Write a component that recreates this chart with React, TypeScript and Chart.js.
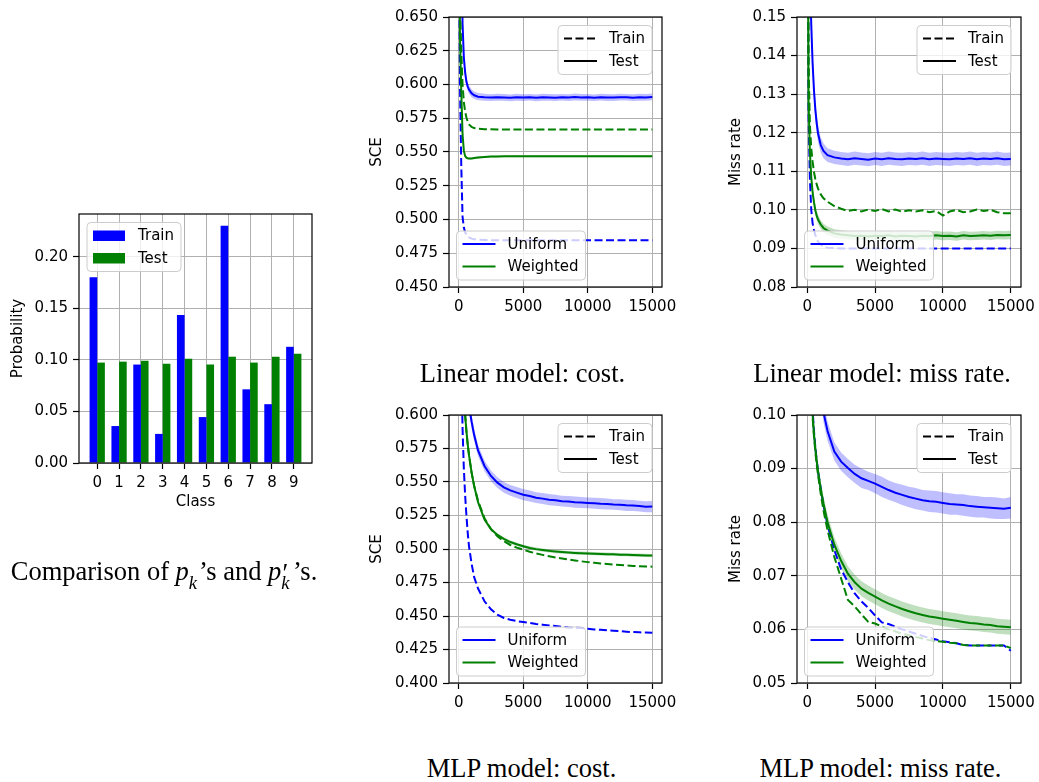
import React, { useEffect, useRef } from 'react';
import { Chart, registerables } from 'chart.js';
Chart.register(...registerables);

// ---------------- data ----------------
const CLASSES = [0, 1, 2, 3, 4, 5, 6, 7, 8, 9];
const TRAIN_PROB = [0.180, 0.0358, 0.0954, 0.0282, 0.1434, 0.0445, 0.2298, 0.0714, 0.057, 0.1126];
const TEST_PROB = [0.0973, 0.0982, 0.0992, 0.0963, 0.1011, 0.0954, 0.1030, 0.0973, 0.1030, 0.1059];
const PROB_TICKS = [0, 0.05, 0.1, 0.15, 0.2];

const ITERS = [0, 100, 200, 300, 400, 500, 600, 700, 800, 1000, 1200, 1500,
  2000, 2500, 3000, 3500, 4000, 4500, 5000, 5500, 6000, 6500, 7000, 7500, 8000, 8500, 9000, 9500,
  10000, 10500, 11000, 11500, 12000, 12500, 13000, 13500, 14000, 14500, 15000];
const ITER_TICKS = [0, 5000, 10000, 15000];

// Linear model: cost (SCE)
const LIN_COST_UNI_TEST = [0.95, 0.80, 0.70, 0.645, 0.62, 0.609, 0.602, 0.5985, 0.5962, 0.5935, 0.592, 0.5910,
  0.5905, 0.5903, 0.5906, 0.5904, 0.5901, 0.5906, 0.5903, 0.5905, 0.5901, 0.5906, 0.5904, 0.5902, 0.5905, 0.5903,
  0.5907, 0.5904, 0.5905, 0.5902, 0.5906, 0.5904, 0.5903, 0.5906, 0.5905, 0.5902, 0.5906, 0.5904, 0.5908];
const LIN_COST_UNI_SPREAD = [0.004, 0.004, 0.004, 0.004, 0.0038, 0.0036, 0.0034, 0.0032, 0.003, 0.003, 0.0028, 0.0027,
  0.0026, 0.0025, 0.0026, 0.0025, 0.0025, 0.0026, 0.0025, 0.0024, 0.0025, 0.0026, 0.0025, 0.0025, 0.0024, 0.0025,
  0.0026, 0.0025, 0.0025, 0.0024, 0.0025, 0.0026, 0.0025, 0.0025, 0.0024, 0.0025, 0.0026, 0.0025, 0.0025];
const LIN_COST_WEI_TEST = [0.80, 0.635, 0.595, 0.563, 0.551, 0.547, 0.5458, 0.5453, 0.5451, 0.5452, 0.5455, 0.5459,
  0.5463, 0.5466, 0.5467, 0.5468, 0.5468, 0.5469, 0.5468, 0.5469, 0.5469, 0.5468, 0.5469, 0.5469, 0.5468, 0.5469,
  0.5469, 0.5469, 0.5468, 0.5469, 0.5469, 0.5468, 0.5469, 0.5469, 0.5468, 0.5469, 0.5469, 0.5468, 0.5469];
const LIN_COST_WEI_SPREAD = [0.002, 0.002, 0.002, 0.0015, 0.0012, 0.001, 0.001, 0.0009, 0.0008, 0.0008, 0.0008, 0.0008,
  0.0007, 0.0007, 0.0007, 0.0007, 0.0007, 0.0007, 0.0007, 0.0007, 0.0007, 0.0007, 0.0007, 0.0007, 0.0007, 0.0007,
  0.0007, 0.0007, 0.0007, 0.0007, 0.0007, 0.0007, 0.0007, 0.0007, 0.0007, 0.0007, 0.0007, 0.0007, 0.0007];
const LIN_COST_WEI_TRAIN = [0.80, 0.66, 0.625, 0.600, 0.587, 0.580, 0.5755, 0.5725, 0.5705, 0.5685, 0.5677, 0.5672,
  0.5669, 0.5668, 0.5667, 0.5667, 0.5667, 0.5667, 0.5667, 0.5667, 0.5667, 0.5667, 0.5667, 0.5667, 0.5667, 0.5667,
  0.5667, 0.5667, 0.5667, 0.5667, 0.5667, 0.5667, 0.5667, 0.5667, 0.5667, 0.5667, 0.5667, 0.5667, 0.5667];
const LIN_COST_UNI_TRAIN = [0.75, 0.60, 0.54, 0.502, 0.494, 0.4905, 0.489, 0.4875, 0.4867, 0.4858, 0.4853, 0.4850,
  0.4848, 0.4847, 0.4847, 0.4846, 0.4846, 0.4846, 0.4846, 0.4846, 0.4846, 0.4846, 0.4846, 0.4846, 0.4846, 0.4846,
  0.4846, 0.4846, 0.4846, 0.4846, 0.4846, 0.4846, 0.4846, 0.4846, 0.4846, 0.4846, 0.4846, 0.4846, 0.4845];
const SCE_LIN_TICKS = [0.45, 0.475, 0.5, 0.525, 0.55, 0.575, 0.6, 0.625, 0.65];

// Linear model: miss rate
const LIN_MISS_UNI_TEST = [0.25, 0.19, 0.162, 0.148, 0.138, 0.131, 0.126, 0.1225, 0.1198, 0.1168, 0.1153, 0.1142,
  0.1136, 0.1133, 0.1131, 0.1134, 0.1132, 0.1130, 0.1133, 0.1131, 0.1134, 0.1132, 0.1131, 0.1133, 0.1132, 0.1134,
  0.1131, 0.1133, 0.1132, 0.1131, 0.1133, 0.1132, 0.1134, 0.1131, 0.1133, 0.1132, 0.1134, 0.1131, 0.1132];
const LIN_MISS_UNI_SPREAD = [0.003, 0.003, 0.003, 0.003, 0.003, 0.0028, 0.0026, 0.0024, 0.0022, 0.002, 0.0019, 0.0018,
  0.0017, 0.0017, 0.0017, 0.0017, 0.0017, 0.0017, 0.0017, 0.0017, 0.0017, 0.0017, 0.0017, 0.0017, 0.0017, 0.0017,
  0.0017, 0.0017, 0.0017, 0.0017, 0.0017, 0.0017, 0.0017, 0.0017, 0.0017, 0.0017, 0.0017, 0.0017, 0.0017];
const LIN_MISS_WEI_TEST = [0.25, 0.128, 0.115, 0.1085, 0.1045, 0.1020, 0.0999, 0.0985, 0.0975, 0.0962, 0.0953, 0.0946,
  0.0939, 0.0936, 0.0934, 0.0932, 0.0933, 0.0931, 0.0933, 0.0932, 0.0934, 0.0931, 0.0933, 0.0932, 0.0931, 0.0933,
  0.0932, 0.0934, 0.0932, 0.0933, 0.0931, 0.0934, 0.0932, 0.0933, 0.0934, 0.0933, 0.0935, 0.0934, 0.0935];
const LIN_MISS_WEI_SPREAD = [0.0015, 0.0015, 0.0015, 0.0015, 0.0015, 0.0014, 0.0013, 0.0012, 0.0012, 0.0011, 0.0011, 0.0011,
  0.0011, 0.0011, 0.0011, 0.0011, 0.0011, 0.0011, 0.0011, 0.0011, 0.0011, 0.0011, 0.0011, 0.0011, 0.0011, 0.0011,
  0.0011, 0.0011, 0.0011, 0.0011, 0.0011, 0.0011, 0.0011, 0.0011, 0.0011, 0.0011, 0.0011, 0.0011, 0.0011];
const LIN_MISS_WEI_TRAIN = [0.25, 0.138, 0.122, 0.116, 0.1125, 0.1098, 0.1080, 0.1066, 0.1055, 0.1040, 0.1030, 0.1021,
  0.1010, 0.1003, 0.0997, 0.1000, 0.0996, 0.1001, 0.0997, 0.1002, 0.0996, 0.1001, 0.0995, 0.0999, 0.0996, 0.0999,
  0.0994, 0.0997, 0.0985, 0.0996, 0.1000, 0.0994, 0.0996, 0.1001, 0.0997, 0.1000, 0.0994, 0.0991, 0.0991];
const LIN_MISS_UNI_TRAIN = [0.25, 0.125, 0.108, 0.100, 0.0965, 0.0948, 0.0935, 0.0925, 0.0918, 0.0910, 0.0905, 0.0902,
  0.0901, 0.0900, 0.0900, 0.0900, 0.0900, 0.0900, 0.0900, 0.0900, 0.0900, 0.0900, 0.0900, 0.0900, 0.0900, 0.0900,
  0.0900, 0.0900, 0.0900, 0.0900, 0.0900, 0.0900, 0.0900, 0.0900, 0.0900, 0.0900, 0.0900, 0.0900, 0.0900];
const MISS_LIN_TICKS = [0.08, 0.09, 0.1, 0.11, 0.12, 0.13, 0.14, 0.15];

// MLP model: cost (SCE)
const MLP_COST_UNI_TEST = [0.95, 0.85, 0.78, 0.72, 0.68, 0.655, 0.635, 0.62, 0.607, 0.595, 0.585, 0.5735,
  0.562, 0.5545, 0.5495, 0.546, 0.5437, 0.5421, 0.5405, 0.5395, 0.5383, 0.5376, 0.5368, 0.5363, 0.5357, 0.5354,
  0.5349, 0.5347, 0.5344, 0.5342, 0.5338, 0.5336, 0.5332, 0.533, 0.5326, 0.5324, 0.532, 0.5315, 0.5317];
const MLP_COST_UNI_SPREAD = [0.006, 0.006, 0.006, 0.006, 0.006, 0.006, 0.006, 0.006, 0.0055, 0.005, 0.0045, 0.0042,
  0.004, 0.004, 0.004, 0.004, 0.004, 0.0041, 0.0042, 0.0041, 0.004, 0.0041, 0.0042, 0.0041, 0.004, 0.0041,
  0.0042, 0.0041, 0.004, 0.0041, 0.0042, 0.0041, 0.004, 0.0041, 0.0042, 0.0041, 0.004, 0.0041, 0.0042];
const MLP_COST_WEI_TEST = [0.85, 0.75, 0.69, 0.65, 0.62, 0.60, 0.588, 0.578, 0.570, 0.557, 0.547, 0.535,
  0.522, 0.5148, 0.5105, 0.5075, 0.5052, 0.5035, 0.502, 0.5008, 0.4999, 0.4992, 0.4986, 0.4981, 0.4977, 0.4974,
  0.4971, 0.4969, 0.4967, 0.4965, 0.4963, 0.4961, 0.496, 0.4958, 0.4957, 0.4955, 0.4954, 0.4952, 0.4951];
const MLP_COST_WEI_SPREAD = [0.002, 0.002, 0.002, 0.002, 0.002, 0.002, 0.0018, 0.0016, 0.0015, 0.0014, 0.0013, 0.0012,
  0.0012, 0.0012, 0.0012, 0.0012, 0.0012, 0.0012, 0.0012, 0.0012, 0.0012, 0.0012, 0.0012, 0.0012, 0.0012, 0.0012,
  0.0012, 0.0012, 0.0012, 0.0012, 0.0012, 0.0012, 0.0012, 0.0012, 0.0012, 0.0012, 0.0012, 0.0012, 0.0012];
const MLP_COST_WEI_TRAIN = [0.85, 0.75, 0.69, 0.65, 0.62, 0.60, 0.588, 0.578, 0.570, 0.557, 0.547, 0.536,
  0.523, 0.5148, 0.5095, 0.5058, 0.503, 0.501, 0.4995, 0.498, 0.4967, 0.4956, 0.4946, 0.4937, 0.4929, 0.4922,
  0.4915, 0.4908, 0.4902, 0.4897, 0.4892, 0.4888, 0.4884, 0.488, 0.4877, 0.4874, 0.4872, 0.487, 0.4868];
const MLP_COST_UNI_TRAIN = [0.9, 0.75, 0.64, 0.59, 0.56, 0.54, 0.525, 0.512, 0.502, 0.489, 0.479, 0.4705,
  0.461, 0.455, 0.451, 0.4485, 0.4472, 0.4462, 0.4455, 0.4448, 0.444, 0.4435, 0.443, 0.4425, 0.442, 0.4415,
  0.4412, 0.441, 0.4405, 0.44, 0.4397, 0.4393, 0.439, 0.4387, 0.4383, 0.438, 0.4378, 0.4376, 0.4375];
const SCE_MLP_TICKS = [0.4, 0.425, 0.45, 0.475, 0.5, 0.525, 0.55, 0.575, 0.6];

// MLP model: miss rate
const MLP_MISS_UNI_TEST = [0.20, 0.17, 0.15, 0.138, 0.13, 0.124, 0.119, 0.115, 0.112, 0.1065, 0.1005, 0.097,
  0.0932, 0.0913, 0.0901, 0.089, 0.0882, 0.0877, 0.0872, 0.0866, 0.086, 0.0855, 0.0851, 0.0847, 0.0844, 0.0841,
  0.0839, 0.0838, 0.0836, 0.0834, 0.0833, 0.0832, 0.083, 0.0829, 0.0828, 0.0827, 0.0826, 0.0825, 0.0827];
const MLP_MISS_UNI_SPREAD = [0.002, 0.002, 0.002, 0.002, 0.002, 0.002, 0.002, 0.002, 0.002, 0.002, 0.0019, 0.0018,
  0.0017, 0.0017, 0.0017, 0.0017, 0.0018, 0.0017, 0.0018, 0.0019, 0.0018, 0.0018, 0.0019, 0.0019, 0.002, 0.0019,
  0.002, 0.002, 0.002, 0.002, 0.0019, 0.002, 0.002, 0.002, 0.0019, 0.002, 0.002, 0.0019, 0.002];
const MLP_MISS_WEI_TEST = [0.14, 0.125, 0.115, 0.106, 0.1, 0.0965, 0.0938, 0.0915, 0.0895, 0.0862, 0.0835, 0.080,
  0.0758, 0.0728, 0.0704, 0.0688, 0.0676, 0.0668, 0.0661, 0.0654, 0.0648, 0.0643, 0.0638, 0.0634, 0.063, 0.0627,
  0.0624, 0.0622, 0.062, 0.0618, 0.0616, 0.0614, 0.0612, 0.0611, 0.0609, 0.0608, 0.0606, 0.0605, 0.0604];
const MLP_MISS_WEI_SPREAD = [0.0015, 0.0015, 0.0015, 0.0015, 0.0015, 0.0015, 0.0015, 0.0015, 0.0015, 0.0015, 0.0014, 0.0014,
  0.0014, 0.0014, 0.0014, 0.0014, 0.0014, 0.0014, 0.0014, 0.0014, 0.0014, 0.0014, 0.0014, 0.0014, 0.0014, 0.0014,
  0.0014, 0.0014, 0.0014, 0.0014, 0.0014, 0.0014, 0.0014, 0.0014, 0.0014, 0.0014, 0.0014, 0.0014, 0.0014];
const MLP_MISS_WEI_TRAIN = [0.14, 0.124, 0.114, 0.105, 0.0995, 0.096, 0.0932, 0.0908, 0.0888, 0.0853, 0.0822, 0.0785,
  0.0735, 0.0695, 0.0655, 0.0643, 0.0628, 0.0614, 0.0611, 0.0605, 0.06, 0.0596, 0.0592, 0.0589, 0.0586, 0.0583,
  0.058, 0.0578, 0.0577, 0.0575, 0.0574, 0.0571, 0.057, 0.057, 0.057, 0.057, 0.057, 0.057, 0.0565];
const MLP_MISS_UNI_TRAIN = [0.16, 0.13, 0.117, 0.107, 0.101, 0.097, 0.094, 0.0915, 0.0895, 0.0862, 0.0832, 0.0795,
  0.0748, 0.0712, 0.0688, 0.0667, 0.0652, 0.064, 0.0626, 0.0613, 0.061, 0.0605, 0.06, 0.0596, 0.0592, 0.0588,
  0.0584, 0.0581, 0.0578, 0.0576, 0.0574, 0.0571, 0.057, 0.057, 0.057, 0.057, 0.057, 0.057, 0.056];
const MISS_MLP_TICKS = [0.05, 0.06, 0.07, 0.08, 0.09, 0.1];

// ---------------- styling ----------------
const FONT = '"DejaVu Sans", sans-serif';
const BLUE = '#0000ff';
const GREEN = '#008000';
const BLUE_BAND = 'rgba(0,0,255,0.25)';
const GREEN_BAND = 'rgba(0,128,0,0.25)';
const DASH = [8, 3.5];
const TICK_FONT = { family: FONT, size: 15 };
const GRID = { color: '#b0b0b0', lineWidth: 1, tickColor: '#000', tickLength: 6, tickWidth: 1.2, drawTicks: true, offset: false };

type Rect = { L: number; T: number; R: number; B: number };
type LegendItem = { label: string; color: string; dash?: number[]; patch?: boolean };
type Legend = { corner: 'ur' | 'll' | 'ul'; dx: number; dy: number; items: LegendItem[] };
type Decor = { yTitle: string; yTitleDX: number; xTitle?: string; xTitleDY?: number; legends: Legend[] };

function drawLegend(ctx: CanvasRenderingContext2D, a: any, lg: Legend) {
  ctx.font = `15px ${FONT}`;
  const pad = 6, handle = 33, gap = 12, padR = 7, h = 49;
  const tw = Math.max(...lg.items.map((it) => ctx.measureText(it.label).width));
  const w = pad + handle + gap + tw + padR;
  let x: number, y: number;
  if (lg.corner === 'ur') { x = a.right - lg.dx - w; y = a.top + lg.dy; }
  else if (lg.corner === 'ul') { x = a.left + lg.dx; y = a.top + lg.dy; }
  else { x = a.left + lg.dx; y = a.bottom - lg.dy - h; }
  const r = 4;
  ctx.beginPath();
  ctx.moveTo(x + r, y);
  ctx.arcTo(x + w, y, x + w, y + h, r);
  ctx.arcTo(x + w, y + h, x, y + h, r);
  ctx.arcTo(x, y + h, x, y, r);
  ctx.arcTo(x, y, x + w, y, r);
  ctx.closePath();
  ctx.fillStyle = 'rgba(255,255,255,0.8)';
  ctx.fill();
  ctx.strokeStyle = '#cccccc';
  ctx.lineWidth = 1;
  ctx.setLineDash([]);
  ctx.stroke();
  const rows = [y + 13, y + 35.5];
  lg.items.forEach((it, i) => {
    const cy = rows[i];
    if (it.patch) {
      ctx.fillStyle = it.color;
      ctx.fillRect(x + pad, cy - 5, handle - 1, 10.5);
    } else {
      ctx.strokeStyle = it.color;
      ctx.lineWidth = 2;
      ctx.setLineDash(it.dash || []);
      ctx.beginPath();
      ctx.moveTo(x + pad, cy);
      ctx.lineTo(x + pad + handle, cy);
      ctx.stroke();
      ctx.setLineDash([]);
    }
    ctx.fillStyle = '#000';
    ctx.textAlign = 'left';
    ctx.textBaseline = 'middle';
    ctx.fillText(it.label, x + pad + handle + gap, cy + 1);
  });
}

function makeDecorPlugin(d: Decor) {
  return {
    id: 'mplDecor',
    afterDraw(chart: any) {
      const ctx: CanvasRenderingContext2D = chart.ctx;
      const a = chart.chartArea;
      ctx.save();
      ctx.strokeStyle = '#000';
      ctx.lineWidth = 1.2;
      ctx.setLineDash([]);
      ctx.strokeRect(a.left, a.top, a.right - a.left, a.bottom - a.top);
      ctx.fillStyle = '#000';
      ctx.font = `15px ${FONT}`;
      ctx.save();
      ctx.translate(a.left + d.yTitleDX, (a.top + a.bottom) / 2);
      ctx.rotate(-Math.PI / 2);
      ctx.textAlign = 'center';
      ctx.textBaseline = 'middle';
      ctx.fillText(d.yTitle, 0, 0);
      ctx.restore();
      if (d.xTitle) {
        ctx.textAlign = 'center';
        ctx.textBaseline = 'middle';
        ctx.fillText(d.xTitle, (a.left + a.right) / 2, a.bottom + (d.xTitleDY || 40));
      }
      for (const lg of d.legends) drawLegend(ctx, a, lg);
      ctx.restore();
    },
  };
}

function yScale(ticks: number[], digits: number) {
  return {
    type: 'linear',
    min: ticks[0],
    max: ticks[ticks.length - 1],
    afterBuildTicks: (s: any) => { s.ticks = ticks.map((v) => ({ value: v })); },
    ticks: { callback: (v: any) => Number(v).toFixed(digits), font: TICK_FONT, color: '#000', padding: 5, autoSkip: false },
    grid: GRID,
    border: { display: false },
  };
}

function xIterScale() {
  return {
    type: 'linear',
    min: -750,
    max: 15750,
    offset: false,
    afterBuildTicks: (s: any) => { s.ticks = ITER_TICKS.map((v) => ({ value: v })); },
    ticks: { callback: (v: any) => String(v), font: TICK_FONT, color: '#000', padding: 5, maxRotation: 0, autoSkip: false },
    grid: GRID,
    border: { display: false },
  };
}

function lineDs(ys: number[], color: string, dashed: boolean) {
  return {
    data: ITERS.map((x, i) => ({ x, y: ys[i] })),
    borderColor: color,
    borderWidth: 2,
    borderDash: dashed ? DASH : [],
    pointRadius: 0,
    fill: false,
    tension: 0,
    clip: 0,
  };
}

function bandDs(ys: number[], spread: number[], sign: number, color: string, fillNext: boolean) {
  return {
    data: ITERS.map((x, i) => ({ x, y: ys[i] + sign * spread[i] })),
    borderWidth: 0,
    borderColor: 'rgba(0,0,0,0)',
    backgroundColor: color,
    pointRadius: 0,
    fill: fillNext ? '+1' : false,
    tension: 0,
    clip: 0,
  };
}

const trainTestLegend: Legend = {
  corner: 'ur', dx: 10, dy: 8.5,
  items: [{ label: 'Train', color: '#000', dash: DASH }, { label: 'Test', color: '#000' }],
};
const methodLegend: Legend = {
  corner: 'll', dx: 7.5, dy: 7,
  items: [{ label: 'Uniform', color: BLUE }, { label: 'Weighted', color: GREEN }],
};

function lineConfig(
  uniTest: number[], uniSpread: number[], weiTest: number[], weiSpread: number[],
  uniTrain: number[], weiTrain: number[], ticks: number[], digits: number, decor: Decor,
) {
  return {
    type: 'line',
    data: {
      datasets: [
        lineDs(weiTest, GREEN, false),
        lineDs(weiTrain, GREEN, true),
        lineDs(uniTest, BLUE, false),
        lineDs(uniTrain, BLUE, true),
        bandDs(weiTest, weiSpread, 1, GREEN_BAND, true),
        bandDs(weiTest, weiSpread, -1, GREEN_BAND, false),
        bandDs(uniTest, uniSpread, 1, BLUE_BAND, true),
        bandDs(uniTest, uniSpread, -1, BLUE_BAND, false),
      ],
    },
    options: {
      animation: false,
      responsive: false,
      events: [],
      plugins: { legend: { display: false }, tooltip: { enabled: false } },
      scales: { x: xIterScale(), y: yScale(ticks, digits) },
    },
    plugins: [makeDecorPlugin(decor)],
  };
}

function barConfig() {
  return {
    type: 'bar',
    data: {
      datasets: [
        { label: 'Train', data: CLASSES.map((c, i) => ({ x: c, y: TRAIN_PROB[i] })), backgroundColor: BLUE, borderWidth: 0, categoryPercentage: 0.7, barPercentage: 1.0 },
        { label: 'Test', data: CLASSES.map((c, i) => ({ x: c, y: TEST_PROB[i] })), backgroundColor: GREEN, borderWidth: 0, categoryPercentage: 0.7, barPercentage: 1.0 },
      ],
    },
    options: {
      animation: false,
      responsive: false,
      events: [],
      plugins: { legend: { display: false }, tooltip: { enabled: false } },
      scales: {
        x: {
          type: 'linear',
          min: -0.835,
          max: 9.835,
          offset: false,
          afterBuildTicks: (s: any) => { s.ticks = CLASSES.map((v) => ({ value: v })); },
          ticks: { callback: (v: any) => String(v), font: TICK_FONT, color: '#000', padding: 5, maxRotation: 0, autoSkip: false },
          grid: GRID,
          border: { display: false },
        },
        y: { ...yScale(PROB_TICKS, 2), max: 0.2413 },
      },
    },
    plugins: [makeDecorPlugin({
      yTitle: 'Probability', yTitleDX: -61, xTitle: 'Class', xTitleDY: 39.5,
      legends: [{ corner: 'ul', dx: 8, dy: 8.5, items: [{ label: 'Train', color: BLUE, patch: true }, { label: 'Test', color: GREEN, patch: true }] }],
    })],
  };
}

function ChartPanel({ rect, make }: { rect: Rect; make: () => any }) {
  const ref = useRef<HTMLCanvasElement | null>(null);
  const ML = Math.min(85, rect.L), MT = 12, MR = 22, MB = 55;
  const w = rect.R - rect.L + ML + MR;
  const h = rect.B - rect.T + MT + MB;
  useEffect(() => {
    const cfg = make();
    cfg.options.layout = { padding: { left: 0, top: MT, right: MR, bottom: 0 } };
    cfg.options.scales.x.afterFit = (s: any) => { s.height = MB; };
    cfg.options.scales.y.afterFit = (s: any) => { s.width = ML; };
    const chart = new Chart(ref.current as HTMLCanvasElement, cfg);
    return () => chart.destroy();
  }, []);
  return (
    <canvas
      ref={ref}
      width={w}
      height={h}
      style={{ position: 'absolute', left: rect.L - ML, top: rect.T - MT, width: w, height: h }}
    />
  );
}

const SERIF = '"Liberation Serif", "Times New Roman", serif';

function Caption({ cx, baseline, children }: { cx: number; baseline: number; children: React.ReactNode }) {
  return (
    <div
      style={{
        position: 'absolute', left: cx - 220, top: baseline - 24.2, width: 440, textAlign: 'center',
        fontFamily: SERIF, fontSize: 26.5, lineHeight: '30px', color: '#000', whiteSpace: 'nowrap',
      }}
    >
      {children}
    </div>
  );
}

function SubK({ prime }: { prime?: boolean }) {
  return (
    <span style={{ position: 'relative', display: 'inline-block', width: prime ? '0.44em' : '0.38em', height: 0 }}>
      {prime && <span style={{ position: 'absolute', left: '0.04em', top: '-0.74em', lineHeight: 1 }}>′</span>}
      <i style={{ position: 'absolute', left: 0, top: '-0.33em', fontSize: '0.7em', lineHeight: 1 }}>k</i>
    </span>
  );
}

export default function App() {
  return (
    <div style={{ position: 'absolute', left: 0, top: 0, width: 1039, height: 782, background: '#fff', overflow: 'hidden' }}>
      <ChartPanel rect={{ L: 79, T: 212, R: 312, B: 463 }} make={barConfig} />
      <ChartPanel
        rect={{ L: 449, T: 15, R: 662, B: 287 }}
        make={() => lineConfig(LIN_COST_UNI_TEST, LIN_COST_UNI_SPREAD, LIN_COST_WEI_TEST, LIN_COST_WEI_SPREAD,
          LIN_COST_UNI_TRAIN, LIN_COST_WEI_TRAIN, SCE_LIN_TICKS, 3,
          { yTitle: 'SCE', yTitleDX: -72, legends: [trainTestLegend, methodLegend] })}
      />
      <ChartPanel
        rect={{ L: 797, T: 15, R: 1021, B: 287 }}
        make={() => lineConfig(LIN_MISS_UNI_TEST, LIN_MISS_UNI_SPREAD, LIN_MISS_WEI_TEST, LIN_MISS_WEI_SPREAD,
          LIN_MISS_UNI_TRAIN, LIN_MISS_WEI_TRAIN, MISS_LIN_TICKS, 2,
          { yTitle: 'Miss rate', yTitleDX: -61, legends: [trainTestLegend, methodLegend] })}
      />
      <ChartPanel
        rect={{ L: 449, T: 413, R: 662, B: 683 }}
        make={() => lineConfig(MLP_COST_UNI_TEST, MLP_COST_UNI_SPREAD, MLP_COST_WEI_TEST, MLP_COST_WEI_SPREAD,
          MLP_COST_UNI_TRAIN, MLP_COST_WEI_TRAIN, SCE_MLP_TICKS, 3,
          { yTitle: 'SCE', yTitleDX: -72, legends: [trainTestLegend, methodLegend] })}
      />
      <ChartPanel
        rect={{ L: 797, T: 413, R: 1021, B: 683 }}
        make={() => lineConfig(MLP_MISS_UNI_TEST, MLP_MISS_UNI_SPREAD, MLP_MISS_WEI_TEST, MLP_MISS_WEI_SPREAD,
          MLP_MISS_UNI_TRAIN, MLP_MISS_WEI_TRAIN, MISS_MLP_TICKS, 2,
          { yTitle: 'Miss rate', yTitleDX: -61, legends: [trainTestLegend, methodLegend] })}
      />
      <Caption cx={164} baseline={580}>
        Comparison of <i>p</i><SubK />’s and <i>p</i><SubK prime />’s.
      </Caption>
      <Caption cx={522.5} baseline={382}>Linear model: cost.</Caption>
      <Caption cx={882} baseline={382}>Linear model: miss rate.</Caption>
      <Caption cx={521.5} baseline={777}>MLP model: cost.</Caption>
      <Caption cx={880.5} baseline={777}>MLP model: miss rate.</Caption>
    </div>
  );
}
